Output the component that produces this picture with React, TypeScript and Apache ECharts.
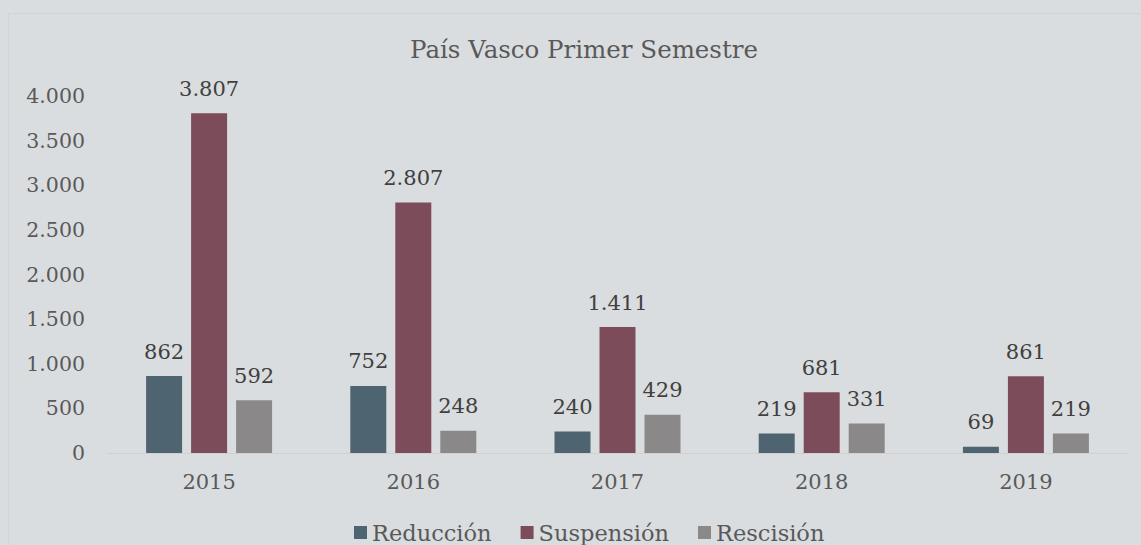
import React, { useEffect, useRef } from "react";
import * as echarts from "echarts";

const categories = ["2015", "2016", "2017", "2018", "2019"];
const reduccion = [862, 752, 240, 219, 69];
const suspension = [3807, 2807, 1411, 681, 861];
const rescision = [592, 248, 429, 331, 219];
const yTicks = [0, 500, 1000, 1500, 2000, 2500, 3000, 3500, 4000];

const FONT = "DejaVu Serif";
const fmt = (v: number) => String(v).replace(/\B(?=(\d{3})+(?!\d))/g, ".");

export default function App() {
  const ref = useRef<HTMLDivElement>(null);
  useEffect(() => {
    const chart = echarts.init(ref.current!, null, { renderer: "svg" });
    const label = {
      show: true,
      position: "top",
      distance: 14,
      color: "#404040",
      fontFamily: FONT,
      fontSize: 21,
      formatter: (p: any) => fmt(p.value),
    };
    chart.setOption({
      animation: false,
      backgroundColor: "#dadddf",
      title: {
        text: "País Vasco Primer Semestre",
        left: 579,
        textAlign: "center",
        top: 32,
        textStyle: { fontFamily: FONT, fontSize: 24.5, fontWeight: "normal", color: "#595959" },
      },
      graphic: [
        {
          type: "rect",
          shape: { x: 8.5, y: 13.5, width: 1140, height: 540 },
          style: { fill: "none", stroke: "#d3d3d3", lineWidth: 1 },
          silent: true,
        },
      ],
      legend: {
        bottom: -4,
        left: 349,
        itemWidth: 13,
        itemHeight: 13,
        itemGap: 29,
        icon: "rect",
        textStyle: { fontFamily: FONT, fontSize: 22.5, color: "#595959" },
        data: ["Reducción", "Suspensión", "Rescisión"],
      },
      grid: { left: 107, right: 13, top: 96, bottom: 92, containLabel: false },
      xAxis: {
        type: "category",
        data: categories,
        axisTick: { show: false },
        axisLine: { lineStyle: { color: "#d0d0d0", width: 1 } },
        axisLabel: { fontFamily: FONT, fontSize: 21, color: "#595959", margin: 18 },
      },
      yAxis: {
        type: "value",
        min: 0,
        max: yTicks[yTicks.length - 1],
        interval: 500,
        splitLine: { show: false },
        axisLine: { show: false },
        axisTick: { show: false },
        axisLabel: {
          fontFamily: FONT,
          fontSize: 20.5,
          color: "#595959",
          margin: 22,
          formatter: (v: number) => fmt(v),
        },
      },
      series: [
        { name: "Reducción", type: "bar", data: reduccion, barWidth: 36, barGap: "25%", itemStyle: { color: "#4e6470" }, label },
        { name: "Suspensión", type: "bar", data: suspension, barWidth: 36, barGap: "25%", itemStyle: { color: "#7c4c5a" }, label },
        { name: "Rescisión", type: "bar", data: rescision, barWidth: 36, barGap: "25%", itemStyle: { color: "#8a8888" }, label },
      ],
    });
    return () => chart.dispose();
  }, []);
  return (
    <div
      ref={ref}
      style={{ position: "fixed", left: 0, top: 0, width: 1141, height: 545 }}
    />
  );
}
